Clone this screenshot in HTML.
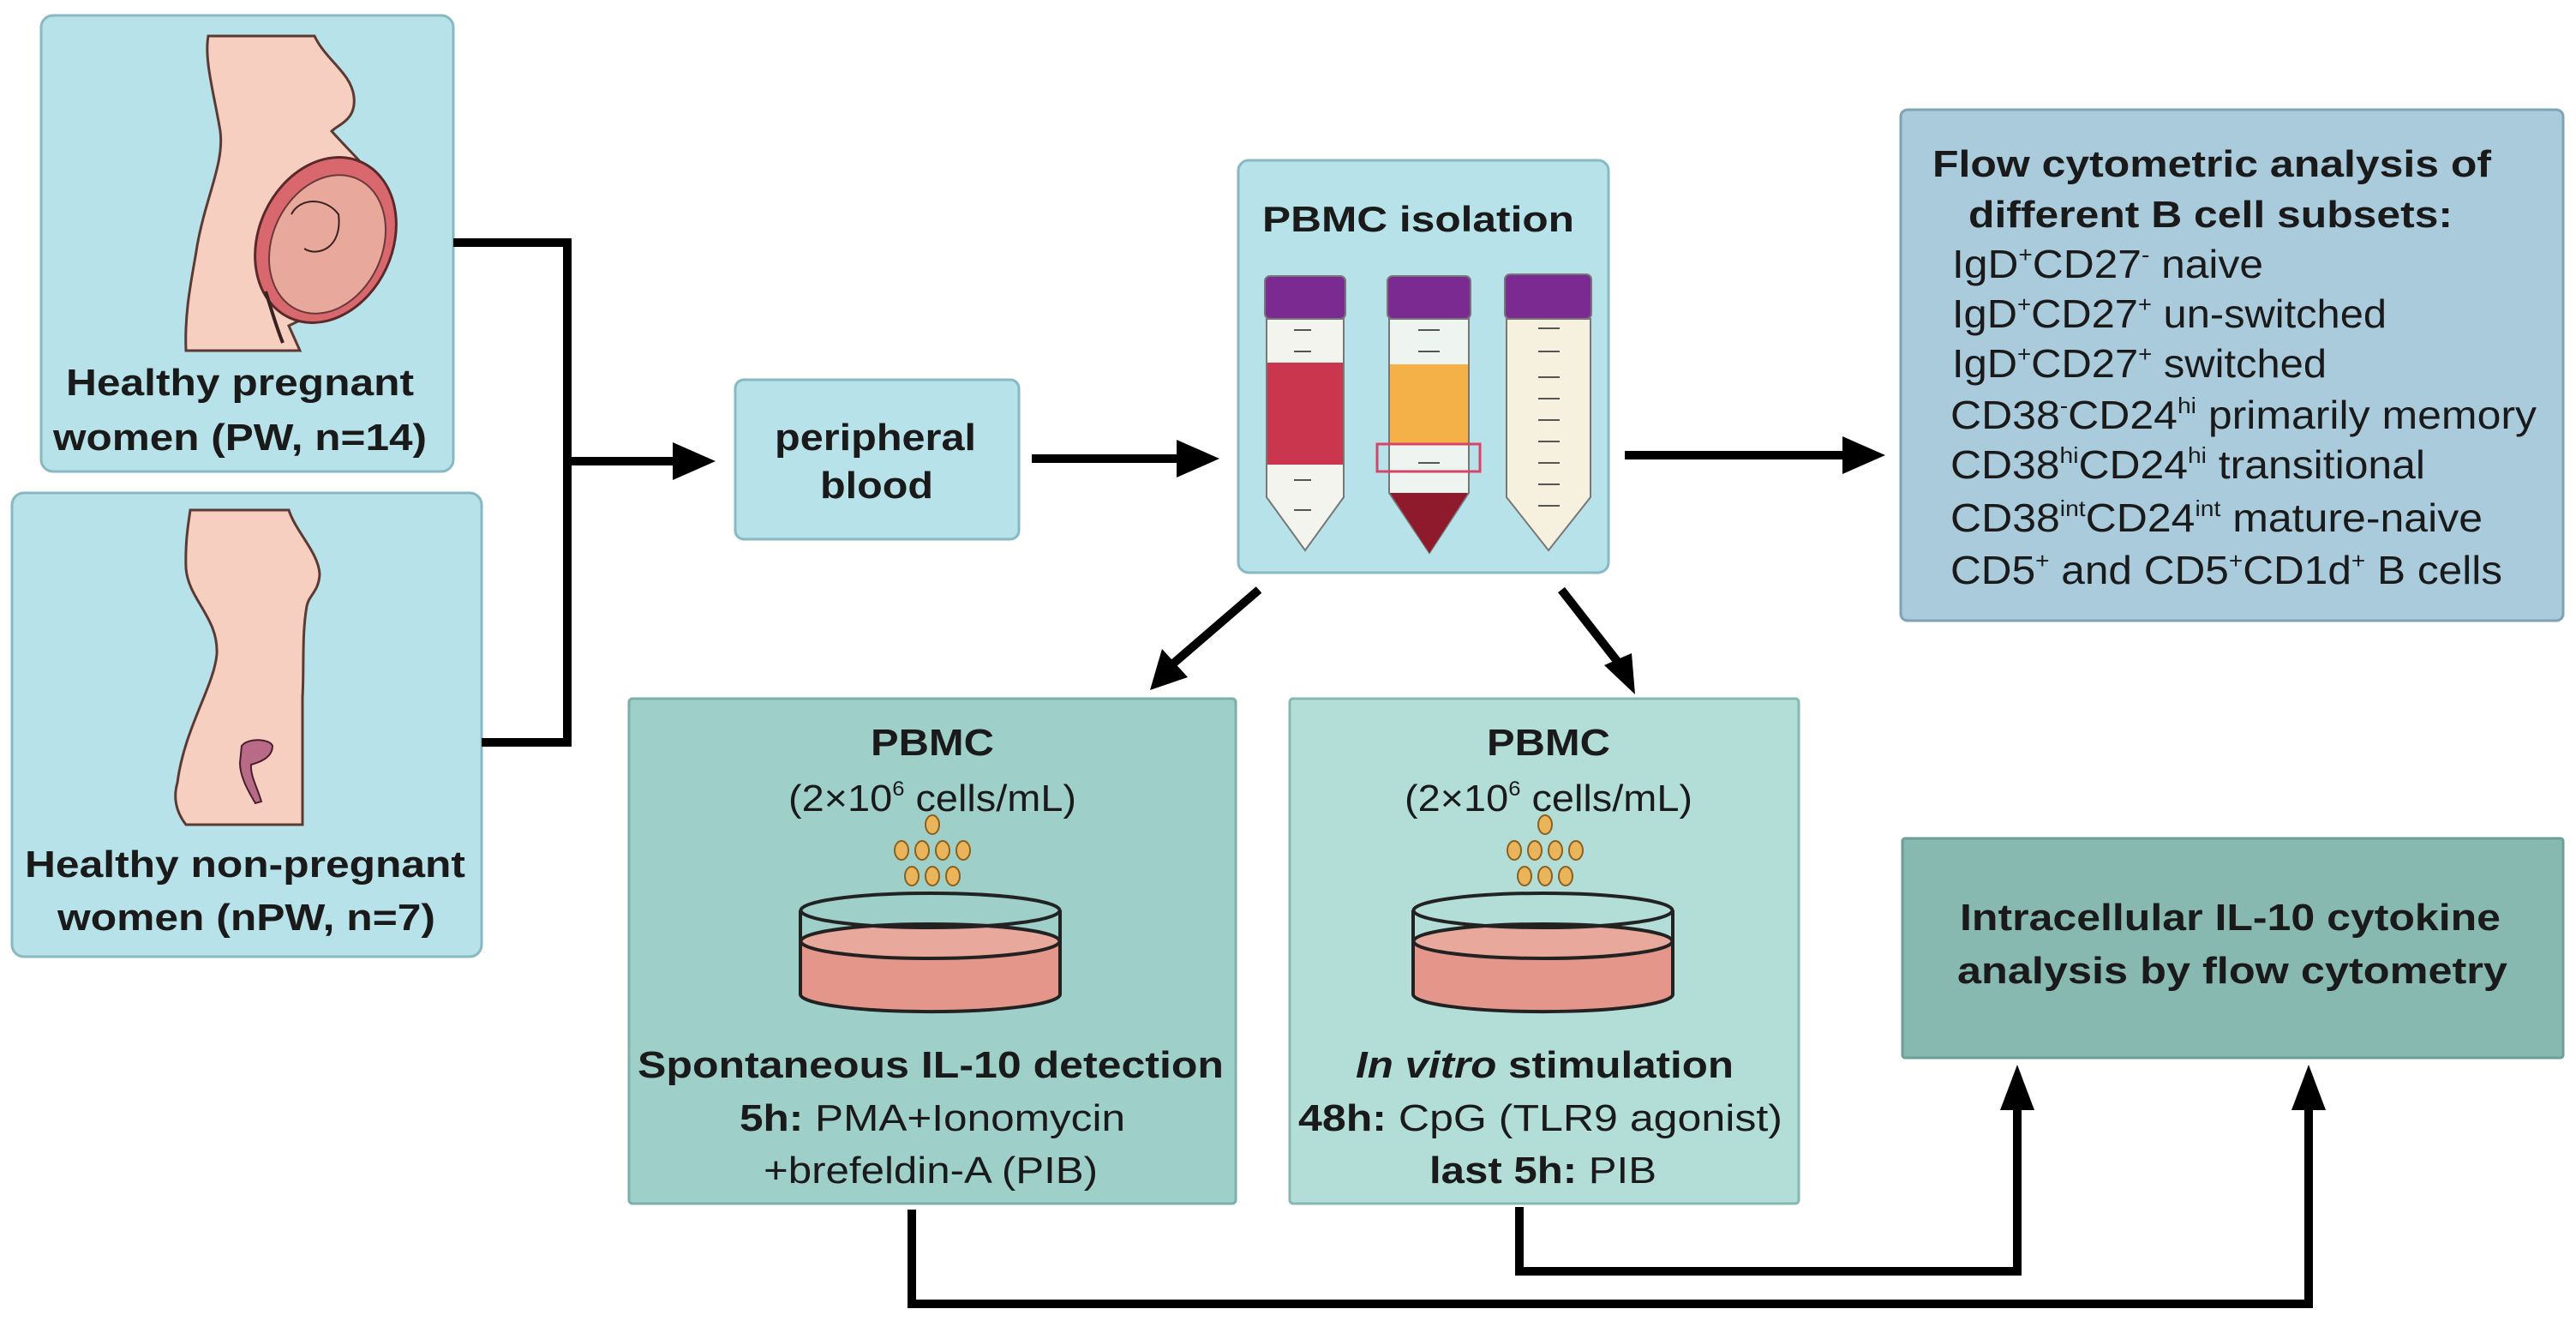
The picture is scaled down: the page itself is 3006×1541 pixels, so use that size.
<!DOCTYPE html>
<html><head><meta charset="utf-8"><style>
html,body{margin:0;padding:0;background:#fff;}
svg{display:block;}
text{font-family:"Liberation Sans",Arial,sans-serif;fill:#1a1a1a;}
.b{font-weight:bold;}
</style></head><body>
<svg width="3006" height="1541" viewBox="0 0 3006 1541" xmlns="http://www.w3.org/2000/svg">
<defs>
<marker id="ah" markerWidth="10" markerHeight="10" refX="8" refY="5" orient="auto" markerUnits="userSpaceOnUse" viewBox="0 0 10 10">
</marker>
</defs>
<!-- Boxes -->
<rect x="48" y="18" width="481" height="532" rx="14" fill="#b8e2e9" stroke="#86b9c2" stroke-width="3"/>
<rect x="14" y="575" width="548" height="541" rx="14" fill="#b8e2e9" stroke="#86b9c2" stroke-width="3"/>
<rect x="858" y="443" width="331" height="186" rx="10" fill="#b8e2e9" stroke="#86b9c2" stroke-width="3"/>
<rect x="1445" y="187" width="432" height="481" rx="12" fill="#b8e2e9" stroke="#86b9c2" stroke-width="3"/>
<rect x="2218" y="128" width="773" height="596" rx="8" fill="#a9cbdc" stroke="#7ea3b4" stroke-width="3"/>
<rect x="734" y="815" width="708" height="589" rx="4" fill="#9fcfc9" stroke="#7bb0a9" stroke-width="3"/>
<rect x="1505" y="815" width="594" height="589" rx="4" fill="#b3ded8" stroke="#84b9b2" stroke-width="3"/>
<rect x="2220" y="978" width="771" height="256" rx="3" fill="#88b9b1" stroke="#6b9f97" stroke-width="3"/>

<!-- Pregnant figure -->
<path d="M243,42 L367,42 C380,70 410,85 413,113 C416,140 395,145 387,153 C420,190 453,215 453,253 C455,320 400,350 337,380 L350,409 L217,409 C215,360 225,320 230,287 C240,230 262,190 257,153 C250,110 238,70 243,42 Z" fill="#f7cfc0" stroke="#5a3a33" stroke-width="3"/>
<ellipse cx="380" cy="280" rx="78" ry="100" transform="rotate(25 380 280)" fill="#d9676e" stroke="#5a2a2a" stroke-width="3"/>
<ellipse cx="382" cy="285" rx="64" ry="84" transform="rotate(25 382 285)" fill="#e9a89c" stroke="#6a3a3a" stroke-width="2"/>
<path d="M340,250 C350,230 380,230 395,250 C400,290 370,300 355,290" fill="none" stroke="#3a2222" stroke-width="2"/>
<path d="M310,340 C318,365 322,380 330,400" fill="none" stroke="#3a2222" stroke-width="4"/>

<!-- Non-pregnant figure -->
<path d="M222,595 L337,595 C345,620 372,645 373,670 C372,690 360,695 358,707 C352,740 355,780 353,813 L353,962 L217,962 C200,940 205,920 207,913 C215,850 250,800 253,763 C255,720 220,700 217,663 C216,630 220,610 222,595 Z" fill="#f7cfc0" stroke="#5a3a33" stroke-width="3"/>
<path d="M282,870 C290,860 315,862 318,870 C318,885 300,890 293,892 C292,905 300,918 305,935 L298,937 C288,920 280,905 280,890 Z" fill="#b86a86" stroke="#4a2030" stroke-width="2"/>

<!-- Tubes -->
<g stroke="#777" stroke-width="2">
<path d="M1478,372 L1568,372 L1568,580 L1523,642 L1478,580 Z" fill="#f4f4ee"/>
<path d="M1479,423 L1567,423 L1567,542 L1479,542 Z" fill="#c9364e" stroke="none"/>
<path d="M1621,372 L1714,372 L1714,575 L1668,645 L1621,575 Z" fill="#eef4ef"/>
<path d="M1622,425 L1713,425 L1713,517 L1622,517 Z" fill="#f3b148" stroke="none"/>
<path d="M1622,575 L1713,575 L1668,645 Z" fill="#8e1a2c" stroke="none"/>
<path d="M1758,372 L1856,372 L1856,580 L1807,642 L1758,580 Z" fill="#f6f1df"/>
<rect x="1476" y="322" width="94" height="50" rx="6" fill="#7a2a90"/>
<rect x="1619" y="322" width="97" height="50" rx="6" fill="#7a2a90"/>
<rect x="1756" y="320" width="101" height="52" rx="6" fill="#7a2a90"/>
</g>
<g stroke="#555" stroke-width="2">
<line x1="1510" y1="385" x2="1530" y2="385"/><line x1="1510" y1="410" x2="1530" y2="410"/><line x1="1510" y1="560" x2="1530" y2="560"/><line x1="1510" y1="595" x2="1530" y2="595"/>
<line x1="1655" y1="385" x2="1680" y2="385"/><line x1="1655" y1="410" x2="1680" y2="410"/><line x1="1655" y1="540" x2="1680" y2="540"/>
<line x1="1795" y1="383" x2="1820" y2="383"/><line x1="1795" y1="410" x2="1820" y2="410"/><line x1="1795" y1="440" x2="1820" y2="440"/><line x1="1795" y1="465" x2="1820" y2="465"/><line x1="1795" y1="490" x2="1820" y2="490"/><line x1="1795" y1="515" x2="1820" y2="515"/><line x1="1795" y1="540" x2="1820" y2="540"/><line x1="1795" y1="565" x2="1820" y2="565"/><line x1="1795" y1="590" x2="1820" y2="590"/>
</g>
<rect x="1607" y="518" width="120" height="32" fill="none" stroke="#d8436a" stroke-width="3"/>

<!-- Dishes and beads -->
<g id="d1">
<g fill="#e9b45a" stroke="#8a6020" stroke-width="2">
<ellipse cx="1088" cy="962" rx="8" ry="11"/>
<ellipse cx="1052" cy="992" rx="8" ry="11"/><ellipse cx="1076" cy="992" rx="8" ry="11"/><ellipse cx="1100" cy="992" rx="8" ry="11"/><ellipse cx="1124" cy="992" rx="8" ry="11"/>
<ellipse cx="1064" cy="1022" rx="8" ry="11"/><ellipse cx="1088" cy="1022" rx="8" ry="11"/><ellipse cx="1112" cy="1022" rx="8" ry="11"/>
</g>
<path d="M934,1098 L934,1160 A151,20 0 0 0 1237,1160 L1237,1098 Z" fill="#e4968a"/>
<ellipse cx="1085.5" cy="1098" rx="151" ry="20" fill="#e9a89c" stroke="#222" stroke-width="4"/>
<path d="M934,1062 L934,1160 A151,20 0 0 0 1237,1160 L1237,1062" fill="none" stroke="#222" stroke-width="4"/>
<ellipse cx="1085.5" cy="1062" rx="151" ry="20" fill="none" stroke="#222" stroke-width="4"/>
</g>
<use href="#d1" x="715" y="0"/>

<!-- Connectors -->
<g stroke="#000" stroke-width="10" fill="none">
<polyline points="529,283 662,283 662,866 562,866"/>
<line x1="662" y1="538" x2="790" y2="538"/>
<line x1="1204" y1="535" x2="1380" y2="535"/>
<line x1="1896" y1="531" x2="2155" y2="531"/>
<line x1="1469" y1="688" x2="1368" y2="775"/>
<line x1="1822" y1="688" x2="1890" y2="775"/>
<polyline points="1064,1411 1064,1521 2694,1521 2694,1290"/>
<polyline points="1773,1408 1773,1483 2354,1483 2354,1290"/>
</g>
<g fill="#000">
<polygon points="835,538 785,516 785,560"/>
<polygon points="1423,535 1373,513 1373,557"/>
<polygon points="2200,531 2150,509 2150,553"/>
<polygon points="1342,805 1356,757 1386,790"/>
<polygon points="1908,810 1872,776 1904,762"/>
<polygon points="2354,1242 2334,1295 2374,1295"/>
<polygon points="2694,1242 2674,1295 2714,1295"/>
</g>

<!-- Text -->
<g class="b" font-size="44" text-anchor="start">
<text x="77" y="461" class="b" textLength="406" lengthAdjust="spacingAndGlyphs">Healthy pregnant</text>
<text x="62" y="525" class="b" textLength="436" lengthAdjust="spacingAndGlyphs">women (PW, n=14)</text>
<text x="29" y="1023" class="b" textLength="514" lengthAdjust="spacingAndGlyphs">Healthy non-pregnant</text>
<text x="67" y="1085" class="b" textLength="441" lengthAdjust="spacingAndGlyphs">women (nPW, n=7)</text>
<text x="904" y="525" class="b" textLength="235" lengthAdjust="spacingAndGlyphs">peripheral</text>
<text x="957" y="581" class="b" textLength="132" lengthAdjust="spacingAndGlyphs">blood</text>
<text x="1473" y="270" class="b" font-size="42" textLength="364" lengthAdjust="spacingAndGlyphs">PBMC isolation</text>
<text x="2255" y="206" class="b" textLength="652" lengthAdjust="spacingAndGlyphs">Flow cytometric analysis of</text>
<text x="2297" y="265" class="b" textLength="565" lengthAdjust="spacingAndGlyphs">different B cell subsets:</text>
<text x="1016" y="881" class="b" textLength="144" lengthAdjust="spacingAndGlyphs">PBMC</text>
<text x="1735" y="881" class="b" textLength="144" lengthAdjust="spacingAndGlyphs">PBMC</text>
<text x="744" y="1257" class="b" textLength="684" lengthAdjust="spacingAndGlyphs">Spontaneous IL-10 detection</text>
<text x="2287" y="1085" class="b" textLength="631" lengthAdjust="spacingAndGlyphs">Intracellular IL-10 cytokine</text>
<text x="2284" y="1147" class="b" textLength="642" lengthAdjust="spacingAndGlyphs">analysis by flow cytometry</text>
</g>
<g font-size="46">
<text x="2278" y="324" textLength="363" lengthAdjust="spacingAndGlyphs">IgD<tspan font-size="26" dy="-18">+</tspan><tspan dy="18">CD27</tspan><tspan font-size="26" dy="-18">-</tspan><tspan dy="18"> naive</tspan></text>
<text x="2278" y="382" textLength="507" lengthAdjust="spacingAndGlyphs">IgD<tspan font-size="26" dy="-18">+</tspan><tspan dy="18">CD27</tspan><tspan font-size="26" dy="-18">+</tspan><tspan dy="18"> un-switched</tspan></text>
<text x="2278" y="440" textLength="437" lengthAdjust="spacingAndGlyphs">IgD<tspan font-size="26" dy="-18">+</tspan><tspan dy="18">CD27</tspan><tspan font-size="26" dy="-18">+</tspan><tspan dy="18"> switched</tspan></text>
<text x="2276" y="500" textLength="684" lengthAdjust="spacingAndGlyphs">CD38<tspan font-size="26" dy="-18">-</tspan><tspan dy="18">CD24</tspan><tspan font-size="26" dy="-18">hi</tspan><tspan dy="18"> primarily memory</tspan></text>
<text x="2276" y="558" textLength="554" lengthAdjust="spacingAndGlyphs">CD38<tspan font-size="26" dy="-18">hi</tspan><tspan dy="18">CD24</tspan><tspan font-size="26" dy="-18">hi</tspan><tspan dy="18"> transitional</tspan></text>
<text x="2276" y="620" textLength="621" lengthAdjust="spacingAndGlyphs">CD38<tspan font-size="26" dy="-18">int</tspan><tspan dy="18">CD24</tspan><tspan font-size="26" dy="-18">int</tspan><tspan dy="18"> mature-naive</tspan></text>
<text x="2276" y="681" textLength="644" lengthAdjust="spacingAndGlyphs">CD5<tspan font-size="26" dy="-18">+</tspan><tspan dy="18"> and CD5</tspan><tspan font-size="26" dy="-18">+</tspan><tspan dy="18">CD1d</tspan><tspan font-size="26" dy="-18">+</tspan><tspan dy="18"> B cells</tspan></text>
</g>
<g font-size="44">
<text x="920" y="946" textLength="336" lengthAdjust="spacingAndGlyphs">(2×10<tspan font-size="24" dy="-18">6</tspan><tspan dy="18"> cells/mL)</tspan></text>
<text x="1639" y="946" textLength="336" lengthAdjust="spacingAndGlyphs">(2×10<tspan font-size="24" dy="-18">6</tspan><tspan dy="18"> cells/mL)</tspan></text>
<text x="863" y="1319" textLength="450" lengthAdjust="spacingAndGlyphs"><tspan font-weight="bold">5h:</tspan> PMA+Ionomycin</text>
<text x="891" y="1380" textLength="390" lengthAdjust="spacingAndGlyphs">+brefeldin-A (PIB)</text>
<text x="1582" y="1257" font-weight="bold" textLength="441" lengthAdjust="spacingAndGlyphs"><tspan font-style="italic">In vitro</tspan> stimulation</text>
<text x="1515" y="1319" textLength="565" lengthAdjust="spacingAndGlyphs"><tspan font-weight="bold">48h:</tspan> CpG (TLR9 agonist)</text>
<text x="1668" y="1380" textLength="265" lengthAdjust="spacingAndGlyphs"><tspan font-weight="bold">last 5h:</tspan> PIB</text>
</g>
</svg>
</body></html>
